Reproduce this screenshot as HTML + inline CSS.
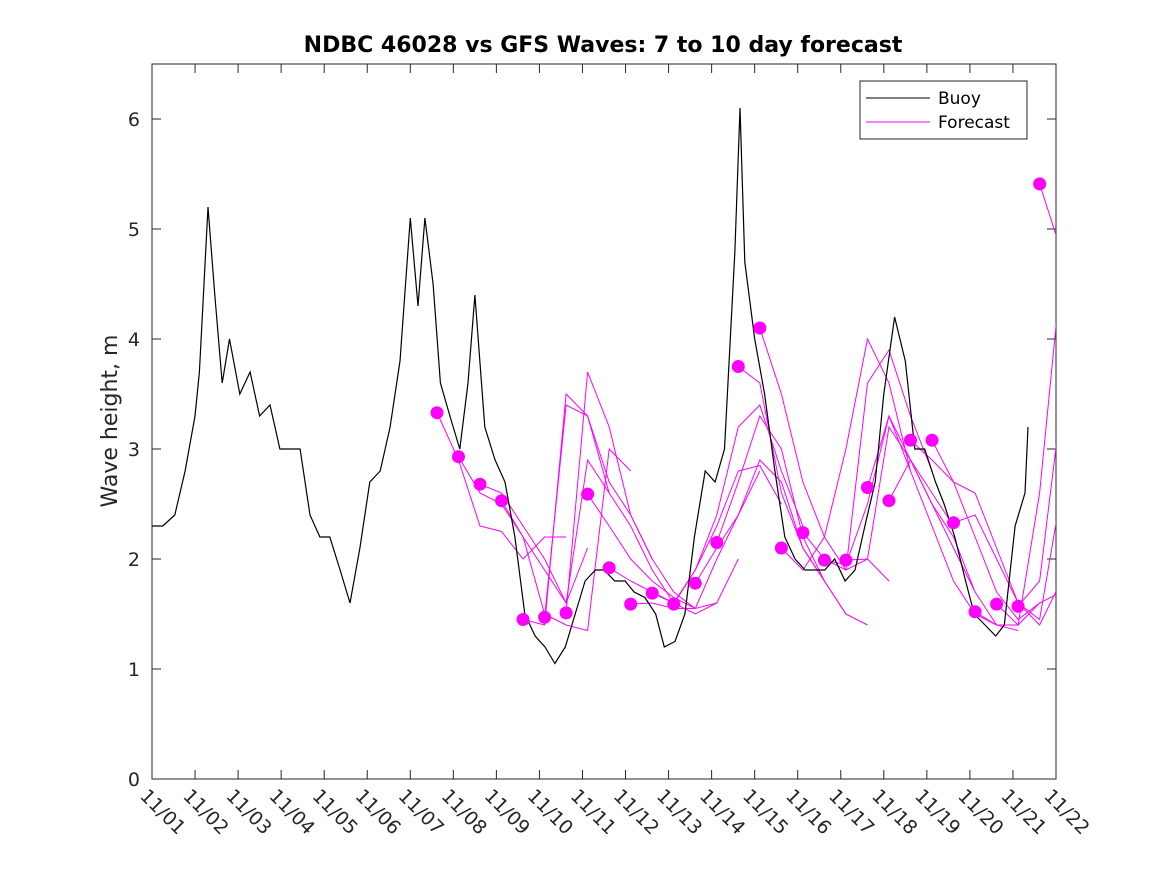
<!DOCTYPE html>
<html><head><meta charset="utf-8">
<style>
html,body{margin:0;padding:0;background:#fff;}
svg{display:block;font-family:"DejaVu Sans","Liberation Sans",sans-serif;}
</style></head>
<body>
<svg id="chart" width="1167" height="875" viewBox="0 0 1167 875" xmlns="http://www.w3.org/2000/svg">
<defs><clipPath id="pc"><rect x="152" y="64" width="904" height="715"/></clipPath></defs>
<text x="603" y="52" font-size="22" font-weight="bold" text-anchor="middle">NDBC 46028 vs GFS Waves: 7 to 10 day forecast</text>
<rect x="152" y="64" width="904" height="715" fill="#fff" stroke="#262626" stroke-width="1"/>
<g id="yticks"></g><g id="xticks"></g>
<g id="fc" clip-path="url(#pc)"></g>
<g id="buoy" clip-path="url(#pc)"></g>
<g id="dots" clip-path="url(#pc)"></g>
<text transform="translate(117,421) rotate(-90)" font-size="22" text-anchor="middle" fill="#262626">Wave height, m</text>
<g>
<rect x="860" y="81" width="167" height="58" fill="#fff" stroke="#262626" stroke-width="1"/>
<line x1="866" y1="98" x2="930" y2="98" stroke="#000" stroke-width="1"/>
<text x="938" y="104" font-size="17">Buoy</text>
<line x1="866" y1="122" x2="930" y2="122" stroke="#f0f" stroke-width="1"/>
<text x="938" y="128" font-size="17">Forecast</text>
</g>
</svg>
<script>
const buoyDays=[0,0.25,0.53,0.77,1.0,1.1,1.3,1.46,1.63,1.8,2.04,2.28,2.5,2.74,2.97,3.2,3.44,3.67,3.9,4.13,4.37,4.6,4.83,5.06,5.3,5.53,5.76,6.0,6.18,6.34,6.53,6.7,6.92,7.15,7.34,7.5,7.73,7.97,8.2,8.43,8.66,8.9,9.13,9.36,9.6,9.83,10.06,10.3,10.5,10.75,10.99,11.2,11.45,11.7,11.9,12.15,12.38,12.6,12.85,13.08,13.3,13.54,13.66,13.77,14.0,14.23,14.47,14.7,14.94,15.17,15.4,15.63,15.86,16.1,16.33,16.56,16.8,17.0,17.25,17.5,17.72,17.95,18.2,18.4,18.65,18.9,19.1,19.35,19.6,19.8,20.05,20.28,20.35];
const buoyVals=[2.3,2.3,2.4,2.8,3.3,3.7,5.2,4.4,3.6,4.0,3.5,3.7,3.3,3.4,3.0,3.0,3.0,2.4,2.2,2.2,1.9,1.6,2.1,2.7,2.8,3.2,3.8,5.1,4.3,5.1,4.5,3.6,3.3,3.0,3.6,4.4,3.2,2.9,2.7,2.2,1.5,1.3,1.2,1.05,1.2,1.5,1.8,1.9,1.9,1.8,1.8,1.7,1.65,1.5,1.2,1.25,1.5,2.2,2.8,2.7,3.0,4.8,6.1,4.7,4.0,3.5,2.8,2.2,2.0,1.9,1.9,1.9,2.0,1.8,1.9,2.3,2.7,3.5,4.2,3.8,3.0,3.0,2.7,2.5,2.2,1.8,1.5,1.4,1.3,1.4,2.3,2.6,3.2];
const fcStart=[6.62,7.12,7.62,8.12,8.62,9.12,9.62,10.12,10.62,11.12,11.62,12.12,12.62,13.12,13.62,14.12,14.62,15.12,15.62,16.12,16.62,17.12,17.62,18.12,18.62,19.12,19.62,20.12,20.62];
const fcVals=[
[3.33,2.9,2.3,2.25,2.0,2.2,2.2],
[2.93,2.6,2.5,2.2,1.9,1.6,2.1],
[2.68,2.6,2.3,2.0,1.6,2.9,2.6],
[2.53,2.2,1.5,1.4,1.35,3.0,2.8],
[1.45,1.4,3.5,3.3,2.7,2.4,2.0],
[1.47,3.4,3.3,2.6,2.3,1.9,1.6],
[1.51,3.7,3.2,2.4,2.0,1.7,1.55],
[2.59,2.3,2.0,1.8,1.65,1.55,1.6],
[1.92,1.8,1.7,1.6,1.5,1.6,2.0],
[1.59,1.6,1.55,1.55,2.0,2.4,2.8],
[1.69,1.6,1.9,2.3,2.8,2.85,2.5],
[1.59,1.9,2.4,3.2,3.4,2.8,2.3],
[1.78,2.1,2.4,2.9,2.7,2.1,1.8],
[2.15,2.7,3.3,3.0,2.2,1.8,1.5],
[3.75,3.6,2.6,2.1,1.8,1.5,1.4],
[4.10,3.5,2.7,2.2,1.9,2.0,1.8],
[2.10,1.9,2.2,3.0,4.0,3.6,2.8],
[2.24,2.0,1.9,3.6,3.9,3.3,2.8],
[1.99,1.95,2.5,3.3,2.9,2.6,2.3],
[1.99,2.0,3.2,2.9,2.5,2.2,1.7],
[2.65,3.3,2.8,2.3,1.8,1.5,1.4],
[2.53,2.9,2.5,2.1,1.7,1.4,1.35],
[3.08,2.9,2.7,2.2,1.7,1.45,1.6],
[3.08,2.7,2.6,2.1,1.6,1.4,1.8],
[2.33,2.4,2.0,1.6,1.45,2.6,2.8],
[1.52,1.4,1.4,2.6,4.6,3.5,2.6],
[1.59,1.4,1.6,1.7,2.7,2.7,2.5],
[1.57,1.8,3.4,3.3,3.0,2.8,2.6],
[5.41,4.8,4.3,4.0,3.8,3.6,3.4]];
const yTicks=[0,1,2,3,4,5,6];
const xTickLabels=["11/01","11/02","11/03","11/04","11/05","11/06","11/07","11/08","11/09","11/10","11/11","11/12","11/13","11/14","11/15","11/16","11/17","11/18","11/19","11/20","11/21","11/22"];

const NS="http://www.w3.org/2000/svg";
const X=d=>152+d*(904/21);
const Y=v=>779-v*110;
function mk(tag,attrs,parent){const e=document.createElementNS(NS,tag);for(const k in attrs)e.setAttribute(k,attrs[k]);parent.appendChild(e);return e;}
const yg=document.getElementById('yticks');
yTicks.forEach(t=>{
  const l=mk('line',{x1:152,x2:161,y1:Y(t),y2:Y(t),stroke:'#262626'},yg);
  
  
  mk('line',{x1:1047,x2:1056,y1:Y(t),y2:Y(t),stroke:'#262626'},yg);
  const tx=mk('text',{x:140,y:Y(t)+7,'font-size':19,'text-anchor':'end',fill:'#262626'},yg);
  tx.textContent=t;
  
  
});
const xg=document.getElementById('xticks');
xTickLabels.forEach((s,i)=>{
  const x=X(i);
  const l=mk('line',{x1:x,x2:x,y1:779,y2:770,stroke:'#262626'},xg);
  
  
  mk('line',{x1:x,x2:x,y1:64,y2:73,stroke:'#262626'},xg);
  const tx=mk('text',{transform:`translate(${x-13},${797}) rotate(45)`,'font-size':19,fill:'#262626'},xg);
  tx.textContent=s;
  
  
});
const fg=document.getElementById('fc');
fcStart.forEach((t0,k)=>{
  const pts=fcVals[k].map((v,j)=>X(t0+0.5*j).toFixed(1)+','+Y(v).toFixed(1)).join(' ');
  const p=mk('polyline',{points:pts,fill:'none',stroke:'#f0f','stroke-width':1},fg);
  
  
});
const bg=document.getElementById('buoy');
const bpts=buoyDays.map((d,i)=>X(d).toFixed(1)+','+Y(buoyVals[i]).toFixed(1));
const bl=mk('polyline',{points:bpts.join(' '),fill:'none',stroke:'#000','stroke-width':1.2},bg);


const dg=document.getElementById('dots');
fcStart.forEach((t0,k)=>{
  const c=mk('circle',{cx:X(t0),cy:Y(fcVals[k][0]),r:6.5,fill:'#f0f'},dg);
  
  
});
</script>
</body></html>
